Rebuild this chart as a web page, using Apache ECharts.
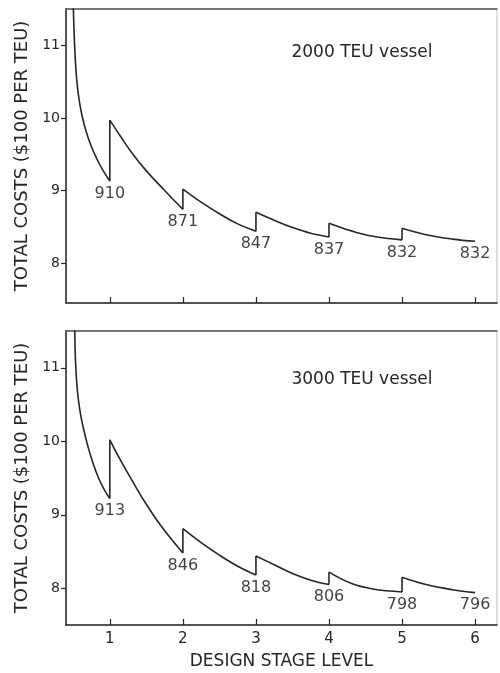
<!DOCTYPE html>
<html>
<head>
<meta charset="utf-8">
<script src="https://cdn.jsdelivr.net/npm/echarts@6/dist/echarts.min.js"></script>
<style>html,body{margin:0;padding:0;background:#fff;}#c{width:500px;height:673px;}</style>
</head>
<body>
<div id="c"></div>
<script>
// ---- data ----
const stages = [1, 2, 3, 4, 5, 6];
const yTicks = [8, 9, 10, 11];
const titleTop = '2000 TEU vessel';
const titleBottom = '3000 TEU vessel';
const yName = 'TOTAL COSTS ($100 PER TEU)';
const xName = 'DESIGN STAGE LEVEL';
const top2000Labels = ['910', '871', '847', '837', '832', '832'];
const bottom3000Labels = ['913', '846', '818', '806', '798', '796'];

// decaying cost curves, one list per design stage (x = stage level, y = $100 per TEU)
const top2000Seg1 = [[0.498, 11.6], [0.51, 11.2], [0.525, 10.85], [0.545, 10.55], [0.575, 10.28], [0.62, 10.03], [0.68, 9.80], [0.75, 9.60], [0.83, 9.42], [0.91, 9.27], [1.0, 9.13]];
const top2000Seg2 = [[1.0, 9.97], [1.15, 9.74], [1.3, 9.52], [1.5, 9.27], [1.75, 9.00], [2.0, 8.74]];
const top2000Seg3 = [[2.0, 9.02], [2.25, 8.84], [2.5, 8.68], [2.75, 8.54], [3.0, 8.44]];
const top2000Seg4 = [[3.0, 8.70], [3.25, 8.59], [3.5, 8.49], [3.75, 8.41], [4.0, 8.36]];
const top2000Seg5 = [[4.0, 8.55], [4.32, 8.44], [4.6, 8.37], [5.0, 8.32]];
const top2000Seg6 = [[5.0, 8.48], [5.33, 8.39], [5.69, 8.33], [6.0, 8.30]];

const bottom3000Seg1 = [[0.519, 11.6], [0.525, 11.24], [0.535, 10.99], [0.555, 10.70], [0.59, 10.42], [0.64, 10.17], [0.70, 9.93], [0.77, 9.70], [0.85, 9.49], [0.92, 9.35], [1.0, 9.22]];
const bottom3000Seg2 = [[1.0, 10.02], [1.12, 9.79], [1.25, 9.56], [1.45, 9.22], [1.7, 8.85], [2.0, 8.48]];
const bottom3000Seg3 = [[2.0, 8.81], [2.25, 8.62], [2.5, 8.45], [2.75, 8.30], [3.0, 8.18]];
const bottom3000Seg4 = [[3.0, 8.44], [3.25, 8.32], [3.5, 8.20], [3.75, 8.11], [4.0, 8.05]];
const bottom3000Seg5 = [[4.0, 8.22], [4.32, 8.06], [4.6, 7.99], [5.0, 7.95]];
const bottom3000Seg6 = [[5.0, 8.15], [5.33, 8.05], [5.69, 7.98], [6.0, 7.94]];

const topSegs = [top2000Seg1, top2000Seg2, top2000Seg3, top2000Seg4, top2000Seg5, top2000Seg6];
const bottomSegs = [bottom3000Seg1, bottom3000Seg2, bottom3000Seg3, bottom3000Seg4, bottom3000Seg5, bottom3000Seg6];

// ---- chart ----
const FONT = 'DejaVu Sans';
const INK = '#262626';
const chart = echarts.init(document.getElementById('c'), null, { renderer: 'canvas' });

function xAxisFor(gridIndex, showLabels) {
  return {
    type: 'value', gridIndex, min: 0.4, max: 6.3,
    axisLine: { show: true, onZero: false, lineStyle: { color: INK, width: 1.5 } },
    axisTick: { show: true, inside: true, length: 6, customValues: stages, lineStyle: { color: INK, width: 1.2 } },
    axisLabel: { show: showLabels, customValues: stages, margin: 7, color: INK, fontFamily: FONT, fontSize: 15 },
    splitLine: { show: false },
    name: showLabels ? xName : '', nameLocation: 'middle', nameGap: 28,
    nameTextStyle: { color: INK, fontFamily: FONT, fontSize: 17 }
  };
}
function topLineAxis(gridIndex) {
  return {
    type: 'value', gridIndex, position: 'top', min: 0.4, max: 6.3,
    axisLine: { show: true, onZero: false, lineStyle: { color: '#555', width: 1.5 } },
    axisTick: { show: false }, axisLabel: { show: false }, splitLine: { show: false }
  };
}
function yAxisFor(gridIndex, min, max) {
  return {
    type: 'value', gridIndex, min, max,
    axisLine: { show: true, onZero: false, lineStyle: { color: INK, width: 1.5 } },
    axisTick: { show: true, inside: false, length: 5, customValues: yTicks, lineStyle: { color: INK, width: 1.2 } },
    axisLabel: { show: true, customValues: yTicks, margin: 6, color: INK, fontFamily: FONT, fontSize: 14 },
    splitLine: { show: false },
    name: yName, nameLocation: 'middle', nameRotate: 90, nameGap: 26,
    nameTextStyle: { color: INK, fontFamily: FONT, fontSize: 18 }
  };
}

const series = [];
function addPanel(segs, labels, xIdx, yIdx) {
  segs.forEach(seg => {
    series.push({
      type: 'line', xAxisIndex: xIdx, yAxisIndex: yIdx, data: seg,
      smooth: 0.4, showSymbol: false, symbol: 'none',
      lineStyle: { color: INK, width: 1.6 }, clip: true, silent: true, z: 3
    });
  });
  // vertical jumps at each stage: end of one segment to start of the next
  for (let i = 0; i < segs.length - 1; i++) {
    const a = segs[i][segs[i].length - 1];
    const b = segs[i + 1][0];
    series.push({
      type: 'line', xAxisIndex: xIdx, yAxisIndex: yIdx, data: [a, b],
      showSymbol: false, symbol: 'none', lineStyle: { color: INK, width: 1.6 }, silent: true, z: 3
    });
  }
  // stage labels under each minimum
  series.push({
    type: 'scatter', xAxisIndex: xIdx, yAxisIndex: yIdx, symbolSize: 1,
    itemStyle: { color: 'rgba(0,0,0,0)' }, silent: true,
    data: segs.map((seg, i) => ({ value: seg[seg.length - 1], name: labels[i] })),
    label: {
      show: true, position: 'bottom', distance: 4, formatter: p => p.name,
      color: '#111', fontFamily: FONT, fontSize: 16, textBorderWidth: 0
    }
  });
}

addPanel(topSegs, top2000Labels, 0, 0);
addPanel(bottomSegs, bottom3000Labels, 1, 1);

chart.setOption({
  backgroundColor: '#fff',
  animation: false,
  grid: [
    { left: 66, top: 9, width: 431, height: 294, show: true, borderColor: '#bbb', borderWidth: 1 },
    { left: 66, top: 331, width: 431, height: 294, show: true, borderColor: '#bbb', borderWidth: 1 }
  ],
  xAxis: [xAxisFor(0, false), xAxisFor(1, true), topLineAxis(0), topLineAxis(1)],
  yAxis: [yAxisFor(0, 7.45, 11.5), yAxisFor(1, 7.5, 11.5)],
  graphic: [
    { type: 'text', x: 362, y: 53, style: { text: titleTop, fill: INK, font: '17px "DejaVu Sans"', align: 'center', verticalAlign: 'middle' } },
    { type: 'text', x: 362, y: 380, style: { text: titleBottom, fill: INK, font: '17px "DejaVu Sans"', align: 'center', verticalAlign: 'middle' } }
  ],
  series
});
</script>
</body>
</html>
